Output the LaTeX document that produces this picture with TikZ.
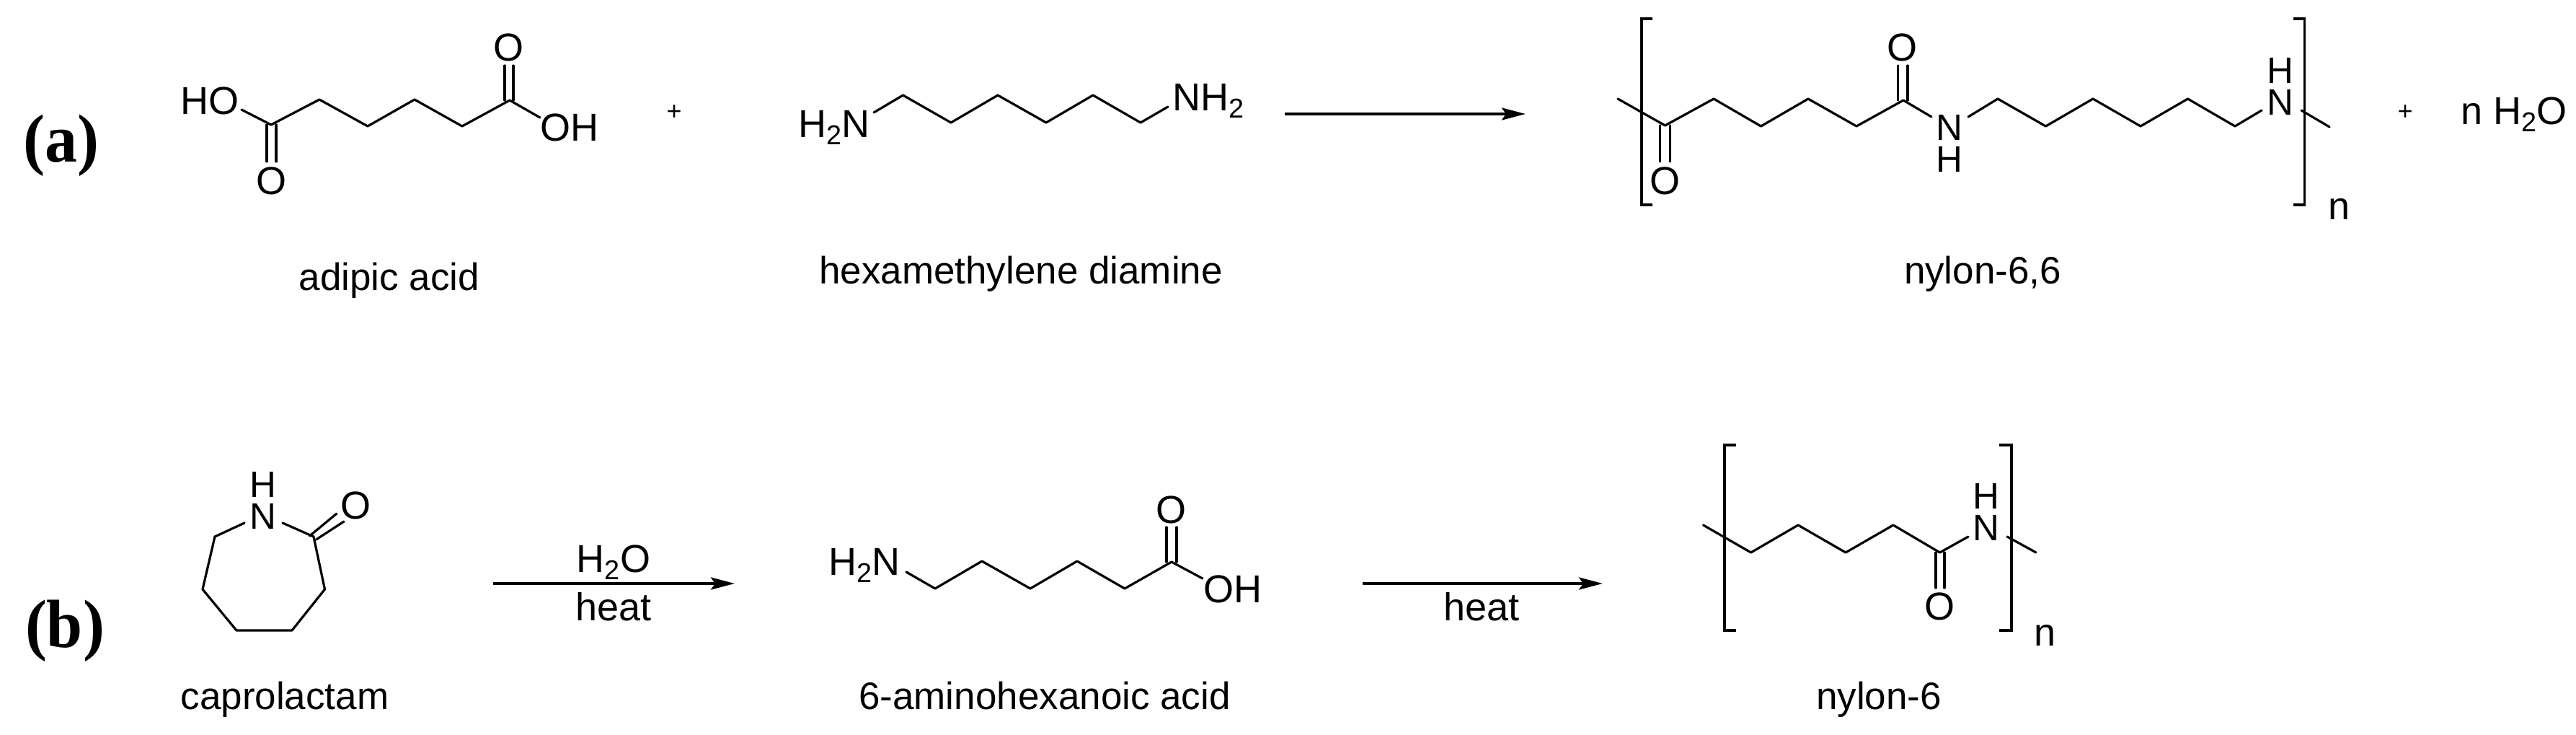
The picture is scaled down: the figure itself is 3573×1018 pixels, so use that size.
\documentclass[tikz,border=0pt]{standalone}
\usepackage{fontspec}
\setmainfont{Liberation Sans}
\newfontfamily\tagfont{Liberation Serif}
\usetikzlibrary{arrows.meta}
\newcommand{\subtwo}{\raisebox{-.2em}{\scalebox{.7}{2}}}
\tikzset{
  atom/.style={inner sep=0pt,anchor=base,font=\fontsize{54}{60}\selectfont},
  stackatom/.style={inner sep=0pt,anchor=base,font=\fontsize{51}{60}\selectfont},
  caption/.style={inner sep=0pt,anchor=base,font=\fontsize{53}{62}\selectfont},
  tagtext/.style={inner sep=0pt,anchor=base,font=\fontsize{90}{100}\selectfont\tagfont\bfseries},
  plus/.style={inner sep=0pt,anchor=center,font=\fontsize{36}{40}\selectfont},
  bond/.style={line width=3.2pt,line join=round,line cap=round},
  bracket/.style={line width=3.2pt,line join=miter},
  rxn/.style={line width=3.8pt,-{Stealth[length=33pt,width=17pt,inset=6pt]}}
}
\begin{document}
\begin{tikzpicture}[x=1pt,y=-1pt]
\useasboundingbox (0,0) rectangle (3573,1018);
\fill[white] (0,0) rectangle (3573,1018);
% labels
\node[tagtext] (taga) at (85,224) {\scalebox{1}[1.05]{(a)}};
\node[tagtext] (tagb) at (90,897) {\scalebox{1}[1.05]{(b)}};
% adipic acid
\coordinate (a1) at (376,173); \coordinate (a2) at (443,138); \coordinate (a3) at (510,175);
\coordinate (a4) at (575,138); \coordinate (a5) at (641,175); \coordinate (a6) at (707,139);
\coordinate (aHOb) at (335,152); \coordinate (aOHb) at (749,163);
\node[atom] (aHO) at (291,158) {HO};
\node[atom] (aOH) at (790,195) {OH};
\node[atom] (aOt) at (705,84) {O};
\node[atom] (aOb) at (376,269) {O};
\draw[bond] (aHOb) -- (a1) -- (a2) -- (a3) -- (a4) -- (a5) -- (a6) -- (aOHb);
\draw[bond] (700,139) -- (700,91) (712,139) -- (712,91);
\draw[bond] (370,173) -- (370,224) (383,173) -- (383,224);
\node[caption] (capA) at (540,402) {adipic acid};
\node[plus] (plusA) at (935,156) {+};
% hexamethylene diamine
\coordinate (h0) at (1212,156); \coordinate (h1) at (1252.5,132); \coordinate (h2) at (1319,170);
\coordinate (h3) at (1384,132); \coordinate (h4) at (1451,170); \coordinate (h5) at (1516,132);
\coordinate (h6) at (1582,170); \coordinate (h7) at (1620,148);
\node[atom] (hL) at (1157,190) {H\subtwo N};
\node[atom] (hR) at (1676,153) {NH\subtwo};
\draw[bond] (h0) -- (h1) -- (h2) -- (h3) -- (h4) -- (h5) -- (h6) -- (h7);
\node[caption] (capH) at (1416,393) {hexamethylene diamine};
% arrow 1
\coordinate (ar1s) at (1782,158); \coordinate (ar1e) at (2116,158);
\draw[rxn] (ar1s) -- (ar1e);
% nylon-6,6
\coordinate (n0) at (2244,137); \coordinate (n1) at (2309.5,174); \coordinate (n2) at (2377,137);
\coordinate (n3) at (2442.5,175); \coordinate (n4) at (2508,137); \coordinate (n5) at (2575,175);
\coordinate (n6) at (2640,139); \coordinate (n7) at (2679,162);
\coordinate (m0) at (2730,162); \coordinate (m1) at (2771,137); \coordinate (m2) at (2837.5,175);
\coordinate (m3) at (2903,137); \coordinate (m4) at (2969,175); \coordinate (m5) at (3034.5,137);
\coordinate (m6) at (3100,175); \coordinate (m7) at (3137,153);
\coordinate (t0) at (3192,153); \coordinate (t1) at (3231,176);
\draw[bond] (n0) -- (n1) -- (n2) -- (n3) -- (n4) -- (n5) -- (n6) -- (n7);
\draw[bond] (m0) -- (m1) -- (m2) -- (m3) -- (m4) -- (m5) -- (m6) -- (m7);
\draw[bond] (t0) -- (t1);
\draw[bond] (2632.5,139) -- (2632.5,91) (2646,139) -- (2646,91);
\draw[bond] (2302.5,174) -- (2302.5,224) (2316.5,174) -- (2316.5,224);
\node[atom] (nOt) at (2638,84) {O};
\node[atom] (nOb) at (2309.5,269) {O};
\node[stackatom] (nN1) at (2703.5,194) {N};
\node[stackatom] (nH1) at (2703.5,238) {H};
\node[stackatom] (nN2) at (3163,159) {N};
\node[stackatom] (nH2) at (3163,115) {H};
\draw[bracket] (2292,26) -- (2277,26) -- (2277,284) -- (2292,284);
\draw[bracket] (3181,26) -- (3196.5,26) -- (3196.5,284) -- (3181,284);
\node[atom] (nn) at (3244,304) {n};
\node[plus] (plusB) at (3336,156) {+};
\node[atom] (water) at (3487,172) {n H\subtwo O};
\node[caption] (capN) at (2750,393) {nylon-6,6};
% caprolactam
\coordinate (c0) at (339,725); \coordinate (c1) at (298,744); \coordinate (c2) at (281,817);
\coordinate (c3) at (328,874); \coordinate (c4) at (405,874); \coordinate (c5) at (450.5,817);
\coordinate (c6) at (435,744); \coordinate (c7) at (392,725);
\draw[bond] (c0) -- (c1) -- (c2) -- (c3) -- (c4) -- (c5) -- (c6) -- (c7);
\draw[bond] (429.5,743) -- (467,712) (438.6,748) -- (477,723);
\node[stackatom] (cN) at (365,733) {N};
\node[stackatom] (cH) at (365,689) {H};
\node[atom] (cO) at (493,719) {O};
\node[caption] (capC) at (395,983) {caprolactam};
% arrow 2
\coordinate (ar2s) at (684,809); \coordinate (ar2e) at (1019,809);
\draw[rxn] (ar2s) -- (ar2e);
\node[atom] (w2) at (851,793) {H\subtwo O};
\node[atom] (heat1) at (851,860) {heat};
% 6-aminohexanoic acid
\coordinate (x0) at (1257,793); \coordinate (x1) at (1297,816); \coordinate (x2) at (1362,778);
\coordinate (x3) at (1429,816); \coordinate (x4) at (1494,778); \coordinate (x5) at (1560,816);
\coordinate (x6) at (1625,779); \coordinate (x7) at (1668,802);
\draw[bond] (x0) -- (x1) -- (x2) -- (x3) -- (x4) -- (x5) -- (x6) -- (x7);
\draw[bond] (1618,779) -- (1618,731) (1632,779) -- (1632,731);
\node[atom] (xL) at (1199,797) {H\subtwo N};
\node[atom] (xO) at (1624,725) {O};
\node[atom] (xOH) at (1710,835) {OH};
\node[caption] (capX) at (1449,983) {6-aminohexanoic acid};
% arrow 3
\coordinate (ar3s) at (1890,809); \coordinate (ar3e) at (2223,809);
\draw[rxn] (ar3s) -- (ar3e);
\node[atom] (heat2) at (2055,860) {heat};
% nylon-6
\coordinate (y0) at (2362.5,728); \coordinate (y1) at (2428.6,766); \coordinate (y2) at (2494,728);
\coordinate (y3) at (2560,766); \coordinate (y4) at (2626,728); \coordinate (y5) at (2690.6,766);
\coordinate (y6) at (2730,744); \coordinate (y7) at (2784,744); \coordinate (y8) at (2824,766);
\draw[bond] (y0) -- (y1) -- (y2) -- (y3) -- (y4) -- (y5) -- (y6);
\draw[bond] (y7) -- (y8);
\draw[bond] (2685,766) -- (2685,815) (2697,766) -- (2697,815);
\node[stackatom] (yN) at (2755,749) {N};
\node[stackatom] (yH) at (2755,705) {H};
\node[atom] (yO) at (2690.6,859) {O};
\draw[bracket] (2408,617) -- (2392,617) -- (2392,874) -- (2408,874);
\draw[bracket] (2773,617) -- (2790,617) -- (2790,874) -- (2773,874);
\node[atom] (yn) at (2836,895) {n};
\node[caption] (capY) at (2606,983) {nylon-6};
\end{tikzpicture}
\end{document}
